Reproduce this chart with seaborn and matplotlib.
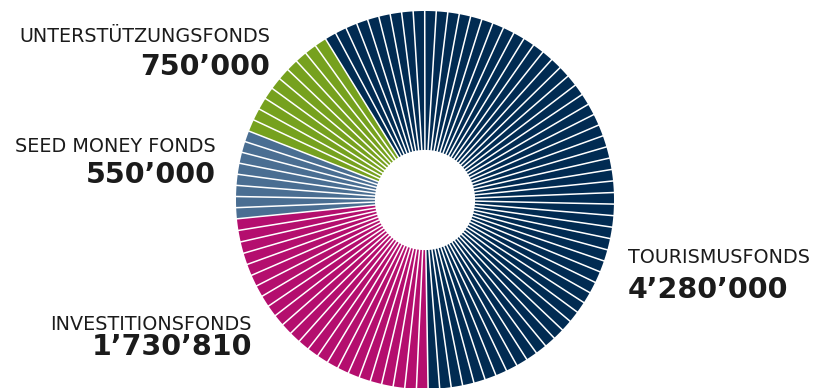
import matplotlib
matplotlib.use("Agg")
import matplotlib.pyplot as plt
import numpy as np
import seaborn as sns

# Fund allocations (CHF)
funds = ["TOURISMUSFONDS", "INVESTITIONSFONDS", "SEED MONEY FONDS", "UNTERSTÜTZUNGSFONDS"]
amounts = [4280000, 1730810, 550000, 750000]
amount_labels = ["4’280’000", "1’730’810", "550’000", "750’000"]
segments = [60, 24, 8, 10]
fund_colors = ["#012b52", "#b40e6e", "#4a6e92", "#76a11e"]

sns.set_theme(style="white")
plt.rcParams["font.family"] = ["DejaVu Sans"]

W, H = 816, 388
fig = plt.figure(figsize=(W / 100, H / 100), dpi=100)
ax = fig.add_axes([0, 0, 1, 1])

# Each fund is split into equal thin slices
slice_values, slice_colors = [], []
for amt, n, col in zip(amounts, segments, fund_colors):
    slice_values += [amt / n] * n
    slice_colors += [col] * n

R = 189
r_in = R * 0.265
cx, cy = 425, H - 200
start = 121.7
ax.pie(slice_values, colors=slice_colors, radius=R, center=(cx, cy),
       startangle=start, counterclock=False, frame=True,
       wedgeprops=dict(width=R - r_in, edgecolor="none", linewidth=0,
                       antialiased=True))

# White radial gaps between the slices
bounds = np.concatenate([[0], np.cumsum(slice_values)]) / np.sum(slice_values)
for b in bounds[:-1]:
    a = np.deg2rad(start - 360 * b)
    ax.plot([cx + (r_in - 2) * np.cos(a), cx + (R + 2) * np.cos(a)],
            [cy + (r_in - 2) * np.sin(a), cy + (R + 2) * np.sin(a)],
            color="white", lw=1.1, solid_capstyle="butt")

ax.set_xlim(0, W)
ax.set_ylim(0, H)
ax.set_aspect("equal")
ax.axis("off")

txt = "#1b1b1b"
name_size = 13.8
value_size = 20.5
# (name baseline, value baseline, x, alignment) in pixel coordinates
placements = [
    (263, 298, 628, "left"),
    (330, 355, 252, "right"),
    (152, 183, 216, "right"),
    (42, 75, 270, "right"),
]
for name, val, (yb_name, yb_val, x, ha) in zip(funds, amount_labels, placements):
    ax.text(x, H - yb_name, name, ha=ha, va="baseline", fontsize=name_size,
            color=txt, fontweight="normal")
    ax.text(x, H - yb_val, val, ha=ha, va="baseline", fontsize=value_size,
            color=txt, fontweight="bold")

fig.savefig("out.png", dpi=100, facecolor="white")
